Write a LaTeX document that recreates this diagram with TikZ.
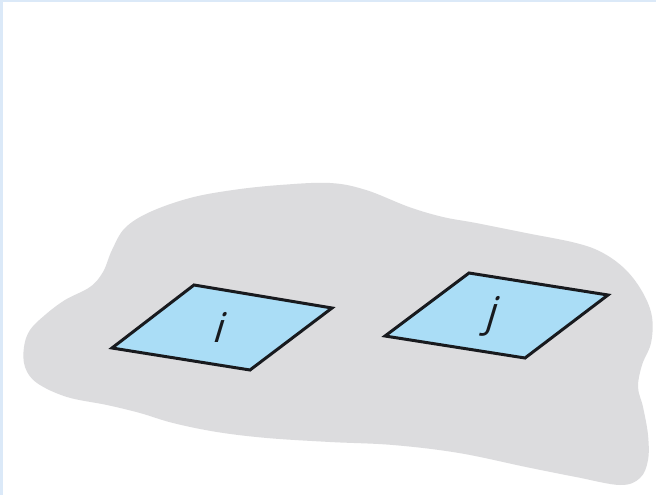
\documentclass[tikz,border=0pt]{standalone}
\usepackage{fontspec}
\setmainfont{Open Sans}
\definecolor{blobgray}{RGB}{220,220,222}
\definecolor{tileblue}{RGB}{170,221,246}
\definecolor{framebl}{RGB}{219,233,248}
\definecolor{edge}{RGB}{24,26,30}
\tikzset{
  tile/.style={fill=tileblue, draw=edge, line width=3pt, line join=miter},
  lbl/.style={font=\fontsize{41}{43}\selectfont, text=edge, inner sep=0pt, xslant=0.3}
}
\begin{document}
\begin{tikzpicture}[x=1pt,y=-1pt]
\useasboundingbox (0,0) rectangle (656,495);
\fill[white] (0,0) rectangle (656,495);
\fill[framebl] (0,0) rectangle (656,2);
\fill[framebl] (0,0) rectangle (3,495);
% blob
\fill[blobgray] plot[smooth cycle, tension=0.6] coordinates {
(330,183) (366,190) (409,207) (443,217) (476,223) (526,233) (576,243) (603,253)
(626,270) (643,293) (652,317) (651,343) (642,365) (638,387) (643,407) (648,435)
(648,460) (640,478) (620,485) (576,477) (526,467) (459,453) (393,445) (330,442)
(267,438) (217,432) (173,423) (140,413) (107,405) (67,397) (37,383) (25,367)
(24,347) (30,330) (45,315) (65,300) (90,287) (103,272) (112,250) (125,228)
(150,212) (190,198) (233,190) (280,185)};
% tiles
\draw[tile] (194,285) -- (332,308) -- (250,370) -- (112,348) -- cycle;
\draw[tile] (469,273) -- (608,295) -- (525,358) -- (385,336) -- cycle;
\node[lbl] (li) at (221,327) {i};
\node[lbl] (lj) at (493,316) {j};
\end{tikzpicture}
\end{document}
